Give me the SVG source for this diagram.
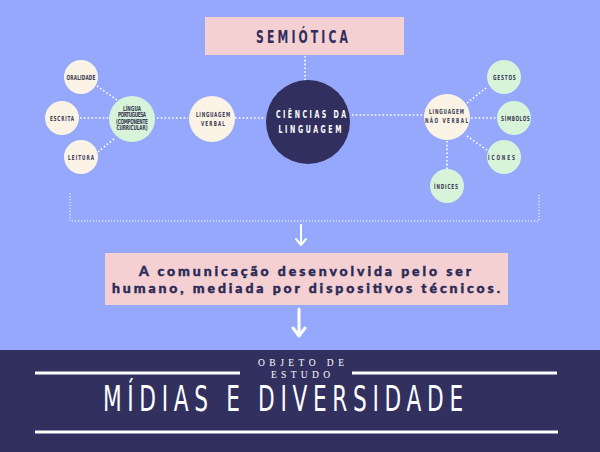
<svg xmlns="http://www.w3.org/2000/svg" width="600" height="452" viewBox="0 0 600 452">
<style>
.dot{fill:none;stroke:#ffffff;stroke-width:1.6;stroke-dasharray:1.6 2.2}
.brk{fill:none;stroke:#ffffff;stroke-width:1;stroke-dasharray:1.2 1.8}
.cream{fill:#fbf4e6}
.mint{fill:#d7f3da}
.cond{font-family:"DejaVu Sans","Liberation Sans",sans-serif;font-weight:bold;text-anchor:middle}
.thin{font-weight:normal}
.lbl{fill:#3b3a55;font-size:7px}
.body{font-family:Lato,"Noto Sans",sans-serif;font-weight:900;font-size:14px;fill:#2a2a57;stroke:#2a2a57;stroke-width:0.45;text-anchor:middle}
.arrow{fill:none;stroke:#ffffff;stroke-linecap:round;stroke-linejoin:round}
</style>
<rect width="600" height="452" fill="#95a8fb"/>

<g id="connectors">
<line class="dot" x1="305" y1="56" x2="305" y2="80"/>
<line class="dot" x1="97" y1="86" x2="117" y2="100"/>
<line class="dot" x1="80" y1="118" x2="108" y2="118"/>
<line class="dot" x1="98" y1="152" x2="115" y2="138"/>
<line class="dot" x1="157" y1="118" x2="188" y2="118"/>
<line class="dot" x1="235" y1="118" x2="265" y2="118"/>
<line class="dot" x1="352" y1="115" x2="425" y2="115"/>
<line class="dot" x1="467" y1="103" x2="487" y2="87"/>
<line class="dot" x1="471" y1="118" x2="497" y2="118"/>
<line class="dot" x1="467" y1="136" x2="487" y2="150"/>
<line class="dot" x1="447" y1="141" x2="447" y2="169"/>
<polyline class="brk" points="70,193 70,221 539,221 539,193"/>
<path class="arrow" stroke-width="2" d="M301,225 V245 M296,239 L301,245 L306,239"/>
<path class="arrow" stroke-width="3" d="M299,309 V336 M293,328 L299,336 L305,328"/>
</g>

<g id="semiotica">
<rect x="205" y="17" width="199" height="38" fill="#f5d0d2"/>
<text class="cond" transform="translate(302,43) scale(0.6,1)" x="0" y="0" font-size="18" fill="#2e2d5b" textLength="153" lengthAdjust="spacing">SEMIÓTICA</text>
</g>

<g id="ciencias">
<circle cx="308" cy="122" r="42" fill="#302f5e"/>
<text class="cond" transform="translate(311,118) scale(0.6,1)" x="0" y="0" font-size="10.5" fill="#ffffff" textLength="117" lengthAdjust="spacing">CIÊNCIAS DA</text>
<text class="cond" transform="translate(310,133) scale(0.6,1)" x="0" y="0" font-size="10.5" fill="#ffffff" textLength="105" lengthAdjust="spacing">LINGUAGEM</text>
</g>

<g id="verbal">
<circle class="cream" cx="212" cy="119" r="23"/>
<text class="cond lbl" transform="translate(213,117) scale(0.6,1)" x="0" y="0" font-size="6.5" textLength="57" lengthAdjust="spacing">LINGUAGEM</text>
<text class="cond lbl" transform="translate(213,126) scale(0.6,1)" x="0" y="0" font-size="6.5" textLength="40" lengthAdjust="spacing">VERBAL</text>
</g>

<g id="lingua">
<circle class="mint" cx="132" cy="119" r="23"/>
<text class="cond lbl" transform="translate(132,110.5) scale(0.6,1)" x="0" y="0" font-size="5" textLength="30" lengthAdjust="spacing">LÍNGUA</text>
<text class="cond lbl" transform="translate(132,117) scale(0.6,1)" x="0" y="0" font-size="5" textLength="47" lengthAdjust="spacing">PORTUGUESA</text>
<text class="cond lbl" transform="translate(132,123.5) scale(0.6,1)" x="0" y="0" font-size="5" textLength="53" lengthAdjust="spacing">(COMPONENTE</text>
<text class="cond lbl" transform="translate(132,130) scale(0.6,1)" x="0" y="0" font-size="5" textLength="52" lengthAdjust="spacing">CURRICULAR)</text>
</g>

<g id="oralidade">
<circle class="cream" cx="81" cy="77" r="17"/>
<text class="cond lbl" transform="translate(81,79.5) scale(0.6,1)" x="0" y="0" font-size="6.5" textLength="48" lengthAdjust="spacing">ORALIDADE</text>
</g>

<g id="escrita">
<circle class="cream" cx="62" cy="118" r="17"/>
<text class="cond lbl" transform="translate(62,121) scale(0.6,1)" x="0" y="0" textLength="40" lengthAdjust="spacing">ESCRITA</text>
</g>

<g id="leitura">
<circle class="cream" cx="81" cy="157" r="17"/>
<text class="cond lbl" transform="translate(81,160) scale(0.6,1)" x="0" y="0" textLength="43" lengthAdjust="spacing">LEITURA</text>
</g>

<g id="naoverbal">
<circle class="cream" cx="447" cy="117" r="23"/>
<text class="cond lbl" transform="translate(446.5,114) scale(0.6,1)" x="0" y="0" font-size="6.5" textLength="58" lengthAdjust="spacing">LINGUAGEM</text>
<text class="cond lbl" transform="translate(446.5,123) scale(0.6,1)" x="0" y="0" font-size="6.5" textLength="72" lengthAdjust="spacing">NÃO VERBAL</text>
</g>

<g id="gestos">
<circle class="mint" cx="504" cy="77" r="17"/>
<text class="cond lbl" transform="translate(504.5,80) scale(0.6,1)" x="0" y="0" textLength="38" lengthAdjust="spacing">GESTOS</text>
</g>

<g id="simbolos">
<circle class="mint" cx="514" cy="118" r="17"/>
<text class="cond lbl" transform="translate(515.5,121) scale(0.6,1)" x="0" y="0" textLength="48" lengthAdjust="spacing">SÍMBOLOS</text>
</g>

<g id="icones">
<circle class="mint" cx="504" cy="157" r="17"/>
<text class="cond lbl" transform="translate(501.5,160) scale(0.6,1)" x="0" y="0" textLength="45" lengthAdjust="spacing">ÍCONES</text>
</g>

<g id="indices">
<circle class="mint" cx="447" cy="186" r="17"/>
<text class="cond lbl" transform="translate(446,189) scale(0.6,1)" x="0" y="0" textLength="40" lengthAdjust="spacing">ÍNDICES</text>
</g>

<g id="comunicacao">
<rect x="105" y="253" width="403" height="52" fill="#f5d0d2"/>
<text class="body" x="305" y="276" textLength="332" lengthAdjust="spacing">A comunicação desenvolvida pelo ser</text>
<text class="body" x="306" y="293" textLength="388" lengthAdjust="spacing">humano, mediada por dispositivos técnicos.</text>
</g>

<g id="midias">
<rect x="0" y="350" width="600" height="102" fill="#31305f"/>
<rect x="35" y="371.5" width="205" height="3" fill="#ffffff"/>
<rect x="352" y="371.5" width="205" height="3" fill="#ffffff"/>
<rect x="35" y="430.5" width="523" height="3" fill="#ffffff"/>
<text x="301" y="366" font-family="'Liberation Serif',serif" font-size="9.5" fill="#ffffff" text-anchor="middle" textLength="86" lengthAdjust="spacing">OBJETO DE</text>
<text x="300.5" y="378" font-family="'Liberation Serif',serif" font-size="9.5" fill="#ffffff" text-anchor="middle" textLength="59" lengthAdjust="spacing">ESTUDO</text>
<text class="cond thin" transform="translate(283,411) scale(0.62,1)" x="0" y="0" font-size="35" fill="#ffffff" textLength="581" lengthAdjust="spacing">MÍDIAS E DIVERSIDADE</text>
</g>
</svg>
